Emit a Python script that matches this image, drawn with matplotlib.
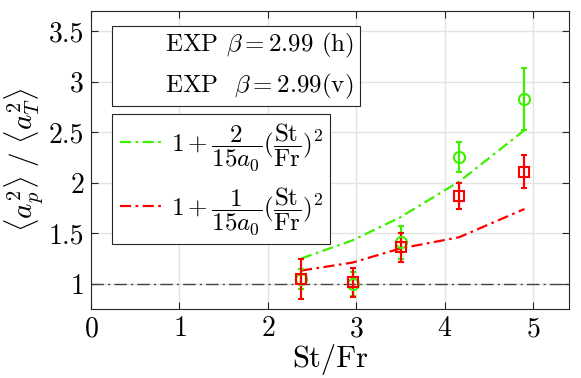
import matplotlib
matplotlib.use("Agg")
from matplotlib import pyplot as plt
from matplotlib.lines import Line2D

# St/Fr values of the experiments
st_fr = [2.375, 2.957, 3.50, 4.16, 4.90]

# EXP beta = 2.99 (h)  -> green circles
acc_h = [1.05, 1.00, 1.41, 2.255, 2.83]
err_h = [0.10, 0.12, 0.165, 0.15, 0.31]

# EXP beta = 2.99 (v)  -> red squares
acc_v = [1.05, 1.015, 1.36, 1.87, 2.11]
err_v = [0.20, 0.145, 0.14, 0.13, 0.16]

# model curves 1 + k/(15 a0) (St/Fr)^2
model_2 = [1.25, 1.43, 1.66, 2.01, 2.52]
model_1 = [1.13, 1.21, 1.35, 1.46, 1.74]

green = '#3FEF00'
red = '#FF0000'

plt.rcParams['font.family'] = 'serif'
plt.rcParams['font.serif'] = ['cmr10']
plt.rcParams['mathtext.fontset'] = 'cm'
plt.rcParams['axes.formatter.use_mathtext'] = True

fig = plt.figure(figsize=(5.81, 3.78), dpi=100)
ax = fig.add_axes([0.1566, 0.1825, 0.8222, 0.7884])

ax.grid(True, color='#e3e3e3', linewidth=1.0)
ax.set_axisbelow(True)

# reference line at 1
ax.axhline(1, color='#444444', linewidth=1.0, dashes=(9, 3, 1.5, 3))

l2, = ax.plot(st_fr, model_2, color=green, linewidth=1.6, dashes=(5, 2, 1.2, 2))
l1, = ax.plot(st_fr, model_1, color=red, linewidth=1.6, dashes=(5, 2, 1.2, 2))

ax.errorbar(st_fr, acc_h, yerr=err_h, fmt='o', color=green, mfc='none',
            markersize=8, markeredgewidth=1.5, elinewidth=1.6, capsize=2.5, capthick=1.6)
ax.errorbar(st_fr, acc_v, yerr=err_v, fmt='s', color=red, mfc='none',
            markersize=6.5, markeredgewidth=1.5, elinewidth=1.6, capsize=2.5, capthick=1.6)

ax.set_xlim(0, 5.4)
ax.set_ylim(0.75, 3.7)
ax.set_xticks([0, 1, 2, 3, 4, 5])
ax.set_yticks([1, 1.5, 2, 2.5, 3, 3.5])
ax.set_yticklabels(['1', '1.5', '2', '2.5', '3', '3.5'])
ax.tick_params(direction='in', top=True, right=True, labelsize=20, length=5,
               width=0.8, colors='#262626', labelcolor='black', pad=5)
for s in ax.spines.values():
    s.set_color('#262626')
    s.set_linewidth(0.8)

ax.set_xlabel('St/Fr', fontsize=22, labelpad=1)
ax.set_ylabel(r'$\langle a_p^2\rangle\ /\ \langle a_T^2\rangle$', fontsize=21, labelpad=2)

# legend with the experiment labels (no symbols drawn)
blank = Line2D([], [], linestyle='none')
leg1 = ax.legend([blank, blank],
                 [r'EXP $\beta = 2.99$ (h)', r'EXP  $\beta = 2.99$(v)'],
                 loc='upper left', bbox_to_anchor=(0.1928, 0.932),
                 bbox_transform=fig.transFigure, handlelength=1.9, handletextpad=0,
                 fontsize=18, labelspacing=0.45, borderpad=0.22, borderaxespad=0,
                 fancybox=False, framealpha=1, edgecolor='#262626')
leg1.get_frame().set_linewidth(0.8)
ax.add_artist(leg1)

leg2 = ax.legend([l2, l1],
                 [r'$1+\dfrac{2}{15a_0}(\dfrac{\mathrm{St}}{\mathrm{Fr}})^2$',
                  r'$1+\dfrac{1}{15a_0}(\dfrac{\mathrm{St}}{\mathrm{Fr}})^2$'],
                 loc='upper left', bbox_to_anchor=(0.1928, 0.6984),
                 bbox_transform=fig.transFigure, handlelength=1.7, handletextpad=0.35,
                 fontsize=18, labelspacing=0.5, borderpad=0.3, borderaxespad=0,
                 fancybox=False, framealpha=1, edgecolor='#262626')
leg2.get_frame().set_linewidth(0.8)

fig.savefig('out.png', dpi=100)
